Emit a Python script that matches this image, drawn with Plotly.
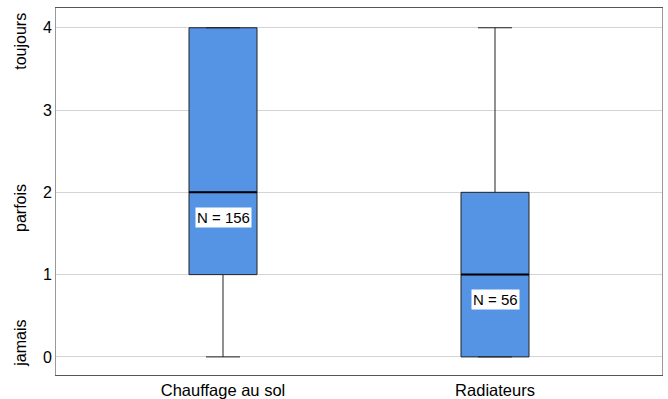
import plotly.graph_objects as go

categories = ["Chauffage au sol", "Radiateurs"]
q1 = [1, 0]
median = [2, 1]
q3 = [4, 2]
lower = [0, 0]
upper = [4, 4]
counts = [156, 56]
y_ticks = [0, 1, 2, 3, 4]
level_labels = ["jamais", "parfois", "toujours"]
level_pos = [0.16, 1.81, 3.83]

FILL = "#5594E4"
EDGE = "#222222"
FONT = "Liberation Sans, Arial, sans-serif"
BOX_W = 0.25

fig = go.Figure()
fig.add_trace(go.Box(
    x=categories, q1=q1, median=median, q3=q3,
    lowerfence=lower, upperfence=upper,
    fillcolor=FILL, line=dict(color=EDGE, width=1),
    width=BOX_W, whiskerwidth=0.5, boxpoints=False,
    hoverinfo="skip", showlegend=False,
))

# thicker black median lines
for i, m in enumerate(median):
    fig.add_shape(type="line", xref="x", yref="y",
                  x0=i - BOX_W / 2, x1=i + BOX_W / 2, y0=m, y1=m,
                  line=dict(color="black", width=2))

# N labels
for i, (c, n) in enumerate(zip(categories, counts)):
    fig.add_annotation(x=c, y=median[i] - 0.3, xref="x", yref="y",
                       text=f"N = {n}", showarrow=False,
                       bgcolor="white", borderpad=1,
                       font=dict(family=FONT, size=15, color="black"))

# level labels (rotated)
for lab, pos in zip(level_labels, level_pos):
    fig.add_annotation(x=0, y=pos, xref="paper", yref="y", xanchor="center",
                       xshift=-35,
                       text=lab, showarrow=False, textangle=-90,
                       font=dict(family=FONT, size=16, color="black"))

fig.update_layout(
    width=668, height=399,
    margin=dict(l=56, r=6, t=8, b=24, autoexpand=False),
    paper_bgcolor="white", plot_bgcolor="white",
    font=dict(family=FONT, color="black"),
)
fig.update_xaxes(range=[-0.614, 1.614], showgrid=False, automargin=False,
                 showline=True, linecolor="#555555", linewidth=1, mirror=True,
                 ticks="", tickfont=dict(size=16.5, family=FONT, color="black"))
fig.update_yaxes(range=[-0.22, 4.24], tickvals=y_ticks, automargin=False,
                 showgrid=True, gridcolor="#d4d4d4", gridwidth=1,
                 zeroline=False,
                 showline=True, linecolor="#999999", linewidth=1, mirror=True,
                 ticks="", tickfont=dict(size=16, family=FONT, color="black"))

fig.write_html("out.html",
               config={"displayModeBar": False},
               post_script="document.body.style.margin='0';document.body.style.overflow='hidden';")
